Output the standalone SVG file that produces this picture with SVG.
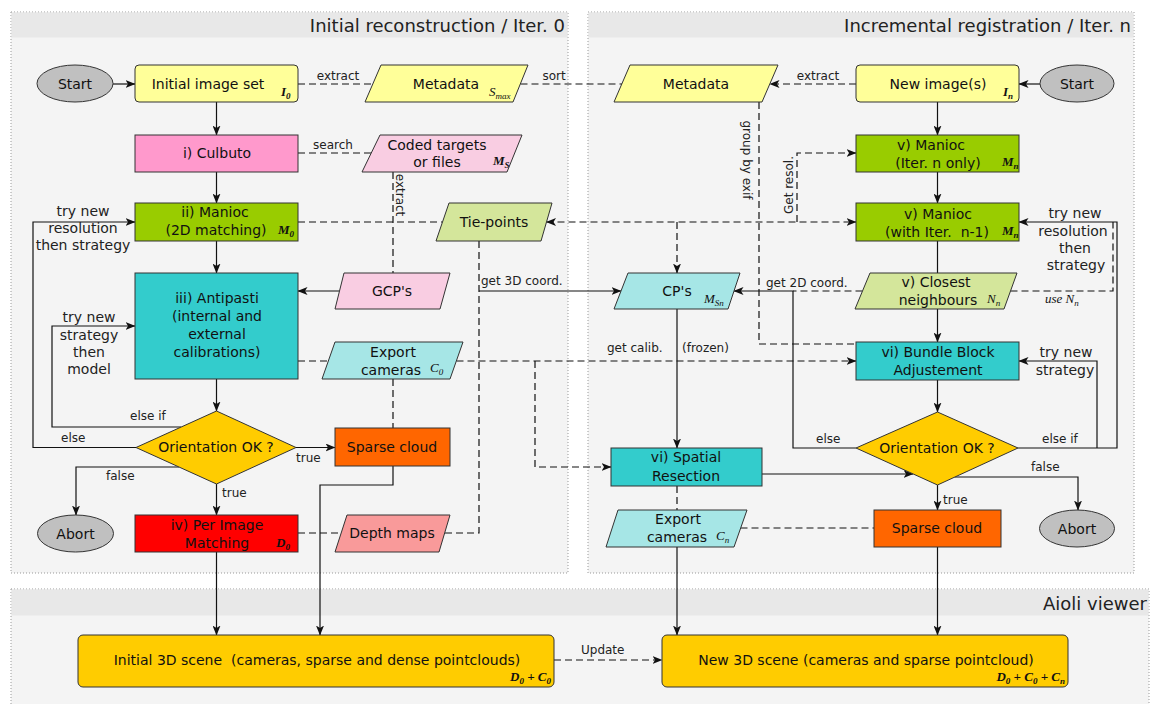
<svg xmlns="http://www.w3.org/2000/svg" width="1153" height="704" viewBox="0 0 1153 704">
<style>
.bg{fill:#fff}
.cont{fill:#f4f4f4;stroke:#999;stroke-width:1;stroke-dasharray:1 2}
.band{fill:#e8e8e8}
.ttl{font-family:"DejaVu Sans",sans-serif;font-size:18px;fill:#222;text-anchor:end}
.t{font-family:"DejaVu Sans",sans-serif;font-size:14px;fill:#111;text-anchor:middle}
.lb{font-family:"DejaVu Sans",sans-serif;font-size:12px;fill:#222}
.lp{font-family:"DejaVu Sans",sans-serif;font-size:14px;fill:#222;text-anchor:middle}
.m{font-family:"Liberation Serif",serif;font-style:italic;font-weight:bold;font-size:13px;fill:#111}
.mr{font-family:"Liberation Serif",serif;font-style:italic;font-size:13px;fill:#111}
.s{font-size:9px}
.sh{stroke:#333;stroke-width:1}
.c{fill:none;stroke:#111;stroke-width:1.2}
.d{stroke-dasharray:7 4}
.a{marker-end:url(#ah)}
.yel{fill:#ffff99}.pink{fill:#ff99cc}.lpink{fill:#f9cde2}.grn{fill:#99cc00}.lgrn{fill:#d4e69b}
.teal{fill:#33cccc}.lteal{fill:#a6e6e6}.gold{fill:#ffcc00}.org{fill:#ff6600}.red{fill:#ff0000}.salm{fill:#f99a9a}.gray{fill:#c0c0c0}
</style>
<defs>
<marker id="ah" viewBox="0 0 10 8" refX="9.5" refY="4" markerWidth="10" markerHeight="8" markerUnits="userSpaceOnUse" orient="auto-start-reverse">
<path d="M0,0 L10,4 L0,8 L2.5,4 z" fill="#111"/>
</marker>
</defs>
<rect class="bg" x="0" y="0" width="1153" height="704"/>

<g id="containers">
<rect class="cont" x="11" y="12" width="557" height="561"/>
<rect class="band" x="11.5" y="12.5" width="556" height="25"/>
<text class="ttl" x="565" y="32">Initial reconstruction / Iter. 0</text>
<rect class="cont" x="588" y="12" width="546" height="561"/>
<rect class="band" x="588.5" y="12.5" width="545" height="25"/>
<text class="ttl" x="1131" y="32">Incremental registration / Iter. n</text>
<rect class="cont" x="11" y="589" width="1138" height="130"/>
<rect class="band" x="11.5" y="589.5" width="1137" height="26"/>
<text class="ttl" x="1147" y="610">Aioli viewer</text>
</g>

<g id="connectors">
<path class="c a" d="M113 84 H135"/>
<path class="c d" d="M298 84 H373"/>
<path class="c d" d="M520.5 84 H622"/>
<path class="c a" d="M216.5 102 V135"/>
<path class="c d" d="M298 153 H371"/>
<path class="c a" d="M216.5 172 V203"/>
<path class="c d" d="M393 172 V273"/>
<path class="c d" d="M298 222 H442.5"/>
<path class="c a" d="M216.5 241 V273"/>
<path class="c a" d="M339.5 291 H298"/>
<path class="c d" d="M298 361 H328.5"/>
<path class="c d a" d="M456.5 361 H856"/>
<path class="c d a" d="M535 361 V467 H611"/>
<path class="c d" d="M393 379 V428"/>
<path class="c a" d="M216.5 379 V411"/>
<path class="c a" d="M296 447.5 H335"/>
<path class="c a" d="M216.5 484 V515"/>
<path class="c a" d="M179 467 H76 V515"/>
<path class="c a" d="M136 447.5 H33 V222 H135"/>
<path class="c a" d="M181 427 H52 V326 H135"/>
<path class="c d" d="M298 533 H341"/>
<path class="c d" d="M479 241 V533 H444"/>
<path class="c a" d="M479 291 H621"/>
<path class="c a" d="M393 466 V485 H320 V635"/>
<path class="c a" d="M216.5 552 V635"/>
<path class="c d a" d="M554 660 H662"/>
<path class="c a" d="M1040 84 H1019"/>
<path class="c d a" d="M856 84 H770"/>
<path class="c a" d="M937.5 102 V135"/>
<path class="c a" d="M937.5 172 V203"/>
<path class="c d" d="M759 102 V344 H856"/>
<path class="c d a" style="marker-start:url(#ah)" d="M546.5 222 H856"/>
<path class="c d a" d="M677 222 V273"/>
<path class="c d a" d="M797 222 V153 H856"/>
<path class="c" d="M937.5 241 V273"/>
<path class="c a" d="M937.5 309 V342"/>
<path class="c d" d="M862.5 291 H793"/>
<path class="c a" d="M856 448 H793 V291 H734"/>
<path class="c d" d="M1010.5 291 H1113 V222"/>
<path class="c a" d="M1018 448 H1117 V222 H1019"/>
<path class="c a" d="M1097 448 V361 H1019"/>
<path class="c a" d="M937.5 380 V412"/>
<path class="c a" d="M762 474 H913"/>
<path class="c a" d="M954.5 477 H1078 V510"/>
<path class="c a" d="M937.5 485 V510"/>
<path class="c a" d="M677 309 V448"/>
<path class="c d" d="M677 486 V510"/>
<path class="c d" d="M740.5 528 H874"/>
<path class="c a" d="M677 547 V635"/>
<path class="c a" d="M937.5 547 V635"/>

<text class="lb" x="338" y="80" text-anchor="middle">extract</text>
<text class="lb" x="554" y="80" text-anchor="middle">sort</text>
<text class="lb" x="818" y="80" text-anchor="middle">extract</text>
<text class="lb" x="333" y="149" text-anchor="middle">search</text>
<text class="lb" x="0" y="0" text-anchor="middle" transform="translate(396 195) rotate(90)">extract</text>
<text class="lb" x="0" y="0" text-anchor="middle" transform="translate(743 160) rotate(90)">group by exif</text>
<text class="lb" x="0" y="0" text-anchor="middle" transform="translate(793 185) rotate(-90)">Get resol.</text>
<text class="lb" x="481" y="285">get 3D coord.</text>
<text class="lb" x="607" y="352">get calib.</text>
<text class="lb" x="682" y="352">(frozen)</text>
<text class="lb" x="766" y="287">get 2D coord.</text>
<text class="mr" x="1045" y="303">use N<tspan class="s" dy="3">n</tspan></text>
<text class="lp" x="83" y="216">try new</text>
<text class="lp" x="83" y="233">resolution</text>
<text class="lp" x="83" y="250">then strategy</text>
<text class="lp" x="89" y="322">try new</text>
<text class="lp" x="89" y="340">strategy</text>
<text class="lp" x="89" y="357">then</text>
<text class="lp" x="89" y="374">model</text>
<text class="lb" x="130" y="420">else if</text>
<text class="lb" x="61" y="442">else</text>
<text class="lb" x="296" y="462">true</text>
<text class="lb" x="106" y="480">false</text>
<text class="lb" x="222" y="497">true</text>
<text class="lb" x="581" y="654">Update</text>
<text class="lp" x="1075" y="218">try new</text>
<text class="lp" x="1073" y="236">resolution</text>
<text class="lp" x="1075" y="253">then</text>
<text class="lp" x="1076" y="270">strategy</text>
<text class="lp" x="1066" y="357">try new</text>
<text class="lp" x="1065" y="375">strategy</text>
<text class="lb" x="816" y="443">else</text>
<text class="lb" x="1042" y="443">else if</text>
<text class="lb" x="1031" y="471">false</text>
<text class="lb" x="943" y="504">true</text>
</g>

<g id="start-l"><ellipse class="sh gray" cx="75" cy="83.5" rx="38" ry="18.5"/><text class="t" x="75" y="89">Start</text></g>
<g id="initial-image-set"><rect class="sh yel" x="135" y="65" width="163" height="37" rx="4"/><text class="t" x="208" y="89">Initial image set</text><text class="m" x="281" y="96">I<tspan class="s" dy="3">0</tspan></text></g>
<g id="metadata-l"><polygon class="sh yel" points="381,65 528,65 513,102 365,102"/><text class="t" x="446" y="89">Metadata</text><text class="mr" x="489" y="96">S<tspan class="s" dy="3">max</tspan></text></g>
<g id="culbuto"><rect class="sh pink" x="135" y="135" width="163" height="37"/><text class="t" x="217" y="158">i) Culbuto</text></g>
<g id="coded-targets"><polygon class="sh lpink" points="380,135 522,135 507,172 362,172"/><text class="t" x="437" y="150">Coded targets</text><text class="t" x="437" y="167">or files</text><text class="m" x="493" y="165">M<tspan class="s" dy="3">S</tspan></text></g>
<g id="manioc-ii"><rect class="sh grn" x="135" y="203" width="163" height="38"/><text class="t" x="215" y="217">ii) Manioc</text><text class="t" x="216" y="235">(2D matching)</text><text class="m" x="278" y="234">M<tspan class="s" dy="3">0</tspan></text></g>
<g id="tie-points"><polygon class="sh lgrn" points="449,203 552,203 541,241 436,241"/><text class="t" x="494" y="227">Tie-points</text></g>
<g id="antipasti"><rect class="sh teal" x="135" y="273" width="163" height="106"/><text class="t" x="217" y="303">iii) Antipasti</text><text class="t" x="217" y="321">(internal and</text><text class="t" x="217" y="339">external</text><text class="t" x="217" y="357">calibrations)</text></g>
<g id="gcps"><polygon class="sh lpink" points="344,273 450,273 440,309 335,309"/><text class="t" x="392" y="296">GCP's</text></g>
<g id="export-c0"><polygon class="sh lteal" points="335,342 463,342 450,379 322,379"/><text class="t" x="393" y="357">Export</text><text class="t" x="391" y="375">cameras</text><text class="mr" x="430" y="372">C<tspan class="s" dy="3">0</tspan></text></g>
<g id="orientation-l"><polygon class="sh gold" points="216.5,411 296,447.5 216.5,484 136,447.5"/><text class="t" x="216" y="452">Orientation OK ?</text></g>
<g id="sparse-l"><rect class="sh org" x="335" y="428" width="115" height="38"/><text class="t" x="392" y="452">Sparse cloud</text></g>
<g id="abort-l"><ellipse class="sh gray" cx="75.5" cy="533.5" rx="38" ry="18.5"/><text class="t" x="75.5" y="539">Abort</text></g>
<g id="per-image"><rect class="sh red" x="135" y="515" width="163" height="37"/><text class="t" x="217" y="530">iv) Per Image</text><text class="t" x="217" y="548">Matching</text><text class="m" x="276" y="547">D<tspan class="s" dy="3">0</tspan></text></g>
<g id="depth-maps"><polygon class="sh salm" points="347,515 450,515 439,552 335,552"/><text class="t" x="392" y="538">Depth maps</text></g>

<g id="metadata-r"><polygon class="sh yel" points="630,65 778,65 762,102 614,102"/><text class="t" x="696" y="89">Metadata</text></g>
<g id="new-images"><rect class="sh yel" x="856" y="65" width="163" height="37" rx="4"/><text class="t" x="938" y="89">New image(s)</text><text class="m" x="1003" y="96">I<tspan class="s" dy="3">n</tspan></text></g>
<g id="start-r"><ellipse class="sh gray" cx="1077" cy="83.5" rx="37" ry="18.5"/><text class="t" x="1077" y="89">Start</text></g>
<g id="manioc-n"><rect class="sh grn" x="856" y="135" width="163" height="37"/><text class="t" x="931" y="150">v) Manioc</text><text class="t" x="938" y="168">(Iter. n only)</text><text class="m" x="1002" y="166">M<tspan class="s" dy="3">n</tspan></text></g>
<g id="manioc-n1"><rect class="sh grn" x="856" y="203" width="163" height="38"/><text class="t" x="938" y="219">v) Manioc</text><text class="t" x="937" y="237" xml:space="preserve">(with Iter.  n-1)</text><text class="m" x="1002" y="235">M<tspan class="s" dy="3">n</tspan></text></g>
<g id="cps"><polygon class="sh lteal" points="628,273 740,273 728,309 614,309"/><text class="t" x="677" y="296">CP's</text><text class="mr" x="704" y="303">M<tspan class="s" dy="3">Sn</tspan></text></g>
<g id="closest"><polygon class="sh lgrn" points="870,273 1017,273 1004,309 855,309"/><text class="t" x="936" y="287">v) Closest</text><text class="t" x="938" y="305">neighbours</text><text class="mr" x="987" y="303">N<tspan class="s" dy="3">n</tspan></text></g>
<g id="bba"><rect class="sh teal" x="856" y="342" width="163" height="38"/><text class="t" x="938" y="357">vi) Bundle Block</text><text class="t" x="938" y="375">Adjustement</text></g>
<g id="orientation-r"><polygon class="sh gold" points="937.5,412 1018,448 937.5,485 856,448"/><text class="t" x="937" y="453">Orientation OK ?</text></g>
<g id="spatial-resection"><rect class="sh teal" x="611" y="448" width="151" height="38"/><text class="t" x="686" y="462">vi) Spatial</text><text class="t" x="686" y="481">Resection</text></g>
<g id="export-cn"><polygon class="sh lteal" points="618,510 747,510 734,547 606,547"/><text class="t" x="678" y="524">Export</text><text class="t" x="677" y="542">cameras</text><text class="mr" x="716" y="540">C<tspan class="s" dy="3">n</tspan></text></g>
<g id="sparse-r"><rect class="sh org" x="874" y="510" width="127" height="37"/><text class="t" x="937" y="533">Sparse cloud</text></g>
<g id="abort-r"><ellipse class="sh gray" cx="1077" cy="528.5" rx="37.5" ry="18.5"/><text class="t" x="1077" y="534">Abort</text></g>

<g id="initial-3d-scene"><rect class="sh gold" x="78" y="635" width="476" height="52" rx="5"/><text class="t" x="317" y="665">Initial 3D scene&#160; (cameras, sparse and dense pointclouds)</text><text class="m" x="551" y="681" text-anchor="end">D<tspan class="s" dy="3">0</tspan><tspan dy="-3"> + C</tspan><tspan class="s" dy="3">0</tspan></text></g>
<g id="new-3d-scene"><rect class="sh gold" x="662" y="635" width="406" height="52" rx="5"/><text class="t" x="866" y="665">New 3D scene (cameras and sparse pointcloud)</text><text class="m" x="1065" y="681" text-anchor="end">D<tspan class="s" dy="3">0</tspan><tspan dy="-3"> + C</tspan><tspan class="s" dy="3">0</tspan><tspan dy="-3"> + C</tspan><tspan class="s" dy="3">n</tspan></text></g>
</svg>
